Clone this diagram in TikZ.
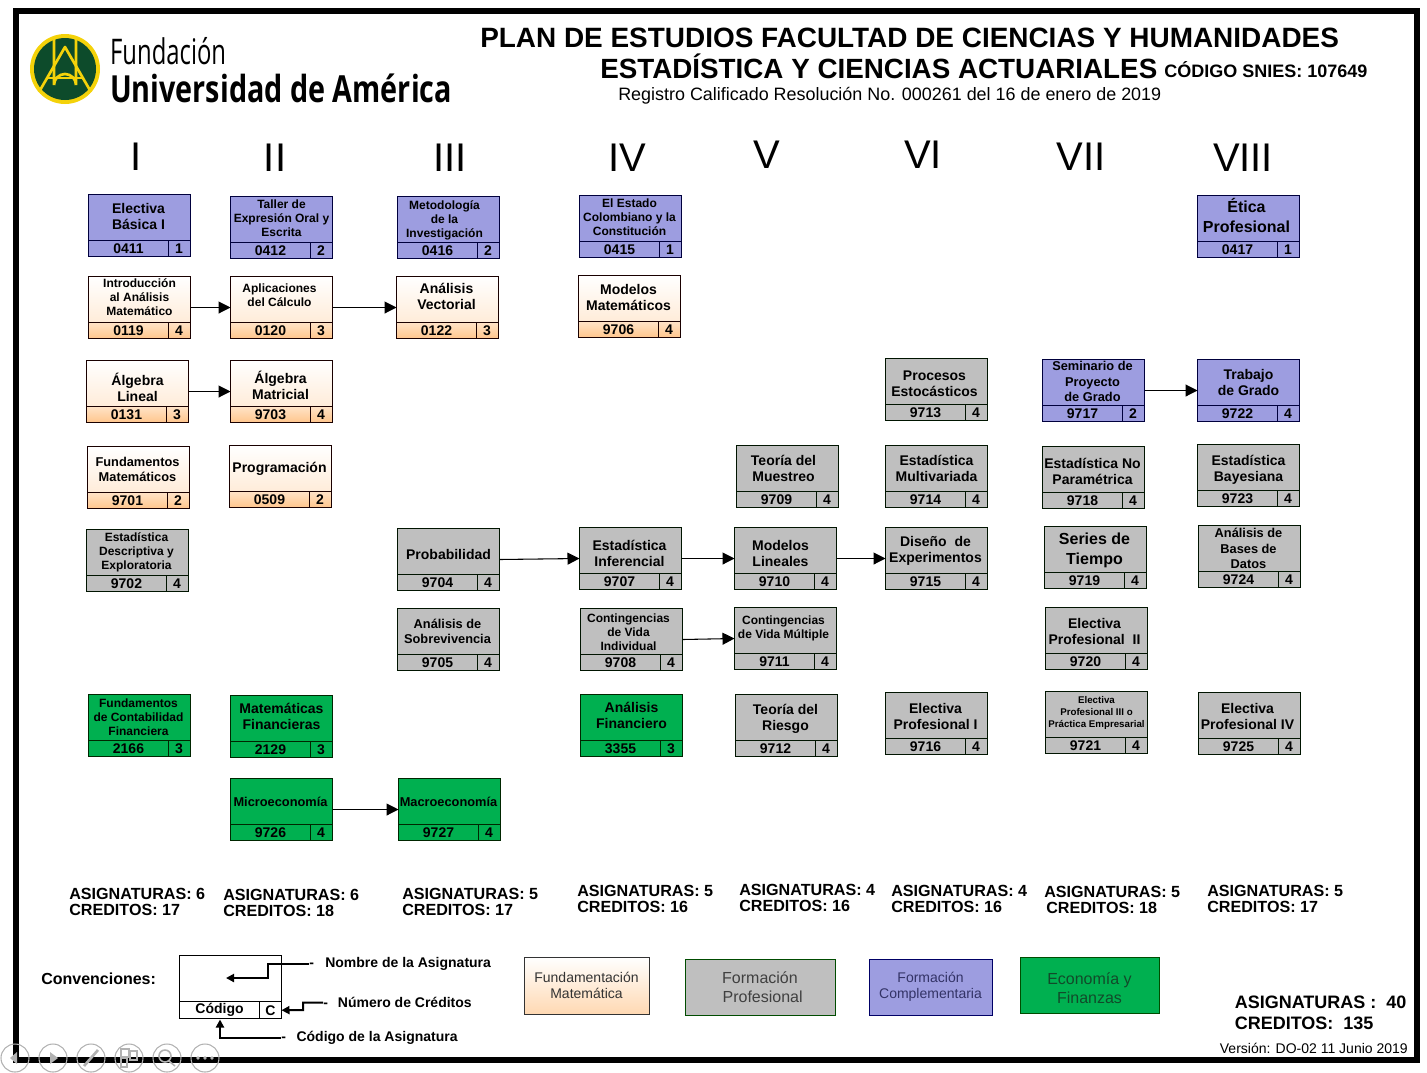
\documentclass[tikz,border=0pt]{standalone}
\usepackage{fontspec}
\setmainfont{Liberation Sans}
\newfontfamily\logofont{Open Sans}
\usetikzlibrary{arrows.meta}

\definecolor{azul}{HTML}{9D9DE0}
\definecolor{gris}{HTML}{BFBFBF}
\definecolor{verde}{HTML}{00B050}
\definecolor{verdelogo}{HTML}{0D4B2B}
\definecolor{amarillo}{HTML}{F4D20A}
\definecolor{verdetxt}{HTML}{124A2A}

\begin{document}
\begin{tikzpicture}
		[x=0.75pt, y=-0.75pt,
		fa/.style = {font=\bfseries\fontsize{10.5}{12}\selectfont},
		fb/.style = {font=\bfseries\fontsize{9}{10.5}\selectfont},
		fc/.style = {font=\bfseries\fontsize{12}{14.7}\selectfont},
		fd/.style = {font=\bfseries\fontsize{7.3}{9}\selectfont},
		fe/.style = {font=\bfseries\fontsize{9.6}{11.5}\selectfont},
		celda/.style = {rectangle, inner sep=0pt, outer sep=0pt, line width=0.75pt, anchor=north west},
		azultop/.style = {draw=black!60!blue!60!black, fill=azul},
		azulbot/.style = {azultop},
		gristop/.style = {draw=black!80!green!40!black, fill=gris},
		grisbot/.style = {gristop},
		verdetop/.style = {draw=black!85!green, fill=verde},
		verdebot/.style = {verdetop},
		mattop/.style = {draw=black!90!red, top color=white, bottom color=orange!15!white},
		matbot/.style = {draw=black!90!red, top color=orange!22!white, bottom color=orange!45!white},
		numero/.style = {font=\bfseries\fontsize{10.5}{12}\selectfont, inner sep=0pt},
		texto/.style = {align=center, inner sep=0pt},
		sem/.style = {font=\fontsize{30}{32}\selectfont, inner sep=0pt},
		total/.style = {font=\bfseries\fontsize{12.1}{12}\selectfont, align=left, anchor=west, inner sep=0pt},
		flecha/.style = {-{Triangle[length=9pt,width=9pt]}, line width=0.8pt, shorten <=0.5pt},
		guia/.style = {-{Triangle[length=6pt,width=6pt]}, line width=1.5pt},
		etiq/.style = {font=\bfseries\fontsize{10.5}{12}\selectfont, anchor=west, inner sep=0pt},
		conv/.style = {draw=black!80, rectangle, inner sep=0pt, outer sep=0pt, align=center, line width=0.75pt, anchor=north west},
		barra/.style = {draw=black!30, line width=0.8pt}]

	\useasboundingbox (0,0) rectangle (1427,1072);
	\draw[line width=4.5pt] (16,11) rectangle (1417,1060);

	% logo
	\fill[amarillo] (65,69) circle [radius=35];
	\fill[verdelogo] (65,69) circle [radius=31];
	\draw[amarillo, line width=2pt] (54,37) -- (54,85) arc [start angle=180, end angle=0, radius=11, y radius=-11] -- (76,37);
	\draw[amarillo, line width=2pt, line join=round] (39,92) -- (65,47) -- (91,92);
	\draw[amarillo, line width=2pt] (47,78) -- (83,78);
	\node[font=\logofont\fontsize{26.5}{28}\selectfont, xscale=0.675, anchor=west, inner sep=0pt] (fundacion) at (110,51) {Fundación};
	\node[font=\logofont\bfseries\fontsize{28}{30}\selectfont, xscale=0.77, anchor=west, inner sep=0pt] (universidad) at (110,88) {Universidad de América};

	% titulos
	\node[font=\bfseries\fontsize{20.95}{22}\selectfont, anchor=west, inner sep=0pt] (titulo) at (480,38) {PLAN DE ESTUDIOS FACULTAD DE CIENCIAS Y HUMANIDADES};
	\node[font=\bfseries\fontsize{20.85}{22}\selectfont, anchor=west, inner sep=0pt] (carrera) at (600,66) {ESTADÍSTICA Y CIENCIAS ACTUARIALES};
	\node[font=\bfseries\fontsize{13.5}{14}\selectfont, anchor=west, inner sep=0pt] (snies) at (1164,69.5) {CÓDIGO SNIES: 107649};
	\node[font=\fontsize{13.45}{14}\selectfont, anchor=west, inner sep=0pt] (registro) at (618,96) {Registro Calificado Resolución No. 000261 del 16 de enero de 2019};

	\foreach \x/\y/\name/\num in {
		136/157/I/1, 275/158/II/2, 450/158/III/3, 627/158/IV/4,
		767/155/V/5, 923/155/VI/6, 1081/157/VII/7, 1243/158/VIII/8}
	{
		\node[sem] (sem\num) at (\x,\y) {\name};
	}

	% asignaturas
	\foreach \id/\x/\y/\kind/\fs/\code/\cred/\tx/\ty/\txt in {
		elec/88/194/azul/fa/0411/1/-1/-1/{Electiva\\Básica I},
		intro/88/276/mat/fb/0119/4/0/-2/{Introducción\\al Análisis\\Matemático},
		alglin/86/360/mat/fa/0131/3/0/4/{Álgebra\\Lineal},
		funmat/87/446/mat/fe/9701/2/-1/0/{Fundamentos\\Matemáticos},
		descr/86/529/gris/fb/9702/4/-1/0/{Estadística\\Descriptiva y\\Exploratoria},
		contab/88/694/verde/fb/2166/3/-1/0/{Fundamentos\\de Contabilidad\\Financiera},
		taller/230/196/azul/fb/0412/2/0/-1/{Taller de\\Expresión Oral y\\Escrita},
		aplic/230/276/mat/fb/0120/3/-2/-4/{Aplicaciones\\del Cálculo},
		algmat/230/360/mat/fa/9703/4/-1/2/{Álgebra\\Matricial},
		progra/229/445/mat/fa/0509/2/-1/0/{Programación},
		matfin/230/695/verde/fa/2129/3/0/-2/{Matemáticas\\Financieras},
		micro/230/778/verde/fe/9726/4/-1/0/{Microeconomía},
		metod/397/196/azul/fb/0416/2/-4/1/{Metodología\\de la\\Investigación},
		vector/396/276/mat/fa/0122/3/-1/-3/{Análisis\\Vectorial},
		proba/397/528/gris/fa/9704/4/0/3/{Probabilidad},
		sobre/397/608/gris/fe/9705/4/-1/0/{Análisis de\\Sobrevivencia},
		macro/398/778/verde/fe/9727/4/-1/0/{Macroeconomía},
		estado/579/195/azul/fb/0415/1/-1/-1/{El Estado\\Colombiano y la\\Constitución},
		modmat/578/275/mat/fa/9706/4/-1/-1/{Modelos\\Matemáticos},
		infer/579/527/gris/fa/9707/4/-1/3/{Estadística\\Inferencial},
		indiv/580/608/gris/fb/9708/4/-3/1/{Contingencias\\de Vida\\Individual},
		anafin/580/694/verde/fa/3355/3/0/-2/{Análisis\\Financiero},
		muest/736/445/gris/fa/9709/4/-4/0/{Teoría del\\Muestreo},
		lineal/734/527/gris/fa/9710/4/-5/3/{Modelos\\Lineales},
		multip/734/607/gris/fb/9711/4/-2/-2/{Contingencias\\de Vida Múltiple},
		riesgo/735/694/gris/fa/9712/4/-1/1/{Teoría del\\Riesgo},
		proces/885/358/gris/fa/9713/4/-2/2/{Procesos\\Estocásticos},
		multiv/885/445/gris/fa/9714/4/0/0/{Estadística\\Multivariada},
		diseno/885/527/gris/fa/9715/4/-1/0/{Diseño\ \ de\\Experimentos},
		elecI/885/692/gris/fa/9716/4/-1/1/{Electiva\\Profesional I},
		semin/1042/359/azul/fe/9717/2/-1/-1/{Seminario de\\Proyecto\\de Grado},
		nopar/1042/446/gris/fa/9718/4/-1/2/{Estadística No\\Paramétrica},
		series/1044/526/gris/fc/9719/4/-1/1/{Series de\\Tiempo},
		elecII/1045/607/gris/fa/9720/4/-2/1/{Electiva\\Profesional\ \ II},
		elecIII/1045/691/gris/fd/9721/4/0/-2/{Electiva\\Profesional III o\\Práctica Empresarial},
		etica/1197/195/azul/fc/0417/1/-2/-3/{Ética\\Profesional},
		grado/1197/359/azul/fa/9722/4/0/0/{Trabajo\\de Grado},
		bayes/1197/444/gris/fa/9723/4/0/2/{Estadística\\Bayesiana},
		bases/1198/525/gris/fe/9724/4/-1/0/{Análisis de\\Bases de\\Datos},
		elecIV/1198/692/gris/fa/9725/4/-2/1/{Electiva\\Profesional IV}}
	{
		\node[celda, \kind top, minimum width=76.5pt, minimum height=34.5pt] (\id) at (\x+0.5,\y+0.5) {};
		\node[celda, \kind bot, minimum width=60pt, minimum height=12pt] (\id cod) at (\x+0.5,\y+46.5) {};
		\node[celda, \kind bot, minimum width=16.5pt, minimum height=12pt] (\id cre) at (\x+80.5,\y+46.5) {};
		\node[numero] (\id num) at (\x+40.5,\y+55) {\code};
		\node[numero] (\id c) at (\x+91,\y+55) {\cred};
		\node[texto, \fs] (\id txt) at (\x+51.5+\tx,\y+23.5+\ty) {\txt};
		\coordinate (\id E) at (\x+102.5,\y+31.5);
		\coordinate (\id W) at (\x+0.5,\y+31.5);
	}

	\foreach \a/\b in {intro/aplic, aplic/vector, alglin/algmat, proba/infer, infer/lineal,
		lineal/diseno, indiv/multip, micro/macro, semin/grado}
	{
		\draw[flecha] (\a E) -- (\b W);
	}

	% totales
	\foreach \id/\x/\y/\asig/\cred in {
		a/69/902/6/17, b/223/903/6/18, c/402/902/5/17, d/577/899/5/16,
		e/739/898/4/16, f/891/899/4/16, h/1207/899/5/17}
	{
		\node[total] (tot\id) at (\x,\y) {ASIGNATURAS: \asig\\CREDITOS: \cred};
	}
	\node[total] (totg) at (1044,899.5) {ASIGNATURAS: 5\\\kern1.5pt CREDITOS: 18};
	\node[font=\bfseries\fontsize{13.5}{16}\selectfont, align=left, anchor=west, inner sep=0pt] (totgen) at (1234.5,1013) {ASIGNATURAS :\ \ 40\\CREDITOS:\ \ 135};
	\node[font=\fontsize{10.5}{12}\selectfont, anchor=east, inner sep=0pt] (version) at (1408,1048) {Versión: DO-02 11 Junio 2019};

	% convenciones
	\node[font=\bfseries\fontsize{12}{14}\selectfont, anchor=west, inner sep=0pt] (convtxt) at (41,978.5) {Convenciones:};
	\node[celda, draw=black, minimum width=76.5pt, minimum height=34.5pt] (mod) at (179.5,955.5) {};
	\node[celda, draw=black, minimum width=60pt, minimum height=13pt, font=\bfseries\fontsize{10.5}{12}\selectfont] (modcod) at (179.5,1001.5) {Código};
	\node[celda, draw=black, minimum width=16.5pt, minimum height=13pt, font=\bfseries\fontsize{10.5}{12}\selectfont] (modcre) at (259.5,1001.5) {C};
	\node[etiq] (lnom) at (309,963.5) {-\hspace{8.5pt}Nombre de la Asignatura};
	\node[etiq] (lcre) at (323,1002.5) {-\hspace{7.5pt}Número de Créditos};
	\node[etiq] (lcod) at (281,1037.5) {-\hspace{8pt}Código de la Asignatura};
	\coordinate (pnom) at (226,978);
	\draw[guia] (lnom.west) -- (268,963.5) -- (268,978) -- (pnom);
	\draw[guia] (lcre.west) -- (303,1002.5) -- (303,1010) -- (modcre.east);
	\draw[guia] (lcod.west) -- (220,1037.5) -- (220,1019.5);

	\node[conv, top color=white, bottom color=orange!30!white, minimum width=93.75pt, minimum height=42.75pt, font=\fontsize{10.5}{12}\selectfont, text=black!80] (conva) at (524,957) {Fundamentación\\Matemática};
	\node[conv, draw=black!70!green, fill=gris, minimum width=112.5pt, minimum height=42pt, font=\fontsize{12}{14}\selectfont, text=black!75] (convb) at (685,959) {Formación\\\kern4pt Profesional};
	\node[conv, draw=black!60!blue, fill=azul, minimum width=92.25pt, minimum height=42pt, font=\fontsize{10.5}{12}\selectfont, text=blue!25!black!80] (convc) at (869,959) {Formación\\Complementaria};
	\node[conv, draw=black!70!green, fill=verde, minimum width=104.25pt, minimum height=42pt, font=\fontsize{12}{14}\selectfont, text=verdetxt] (convd) at (1020,957) {\rule{0pt}{14pt}Economía y\\Finanzas};

	% barra de la presentacion
	\foreach \x in {15,53,91,129,167,205}
	{
		\draw[barra] (\x,1058) circle [radius=14];
	}
	\fill[black!30] (10,1058) -- (17,1052) -- (17,1064) -- cycle;
	\fill[black!30] (58,1058) -- (50,1052) -- (50,1064) -- cycle;
	\draw[black!30, line width=2pt] (84,1066) -- (98,1050);
	\draw[black!30, line width=1pt] (121,1049) rectangle (129,1057) (130,1051) rectangle (137,1060) (121,1058) rectangle (127,1067);
	\draw[black!30, line width=1.2pt] (165,1056) circle [radius=6] (169,1061) -- (175,1066);
	\foreach \x in {198,205,212}
	{
		\fill[black!30] (\x,1058) circle [radius=1.8];
	}
\end{tikzpicture}
\end{document}
